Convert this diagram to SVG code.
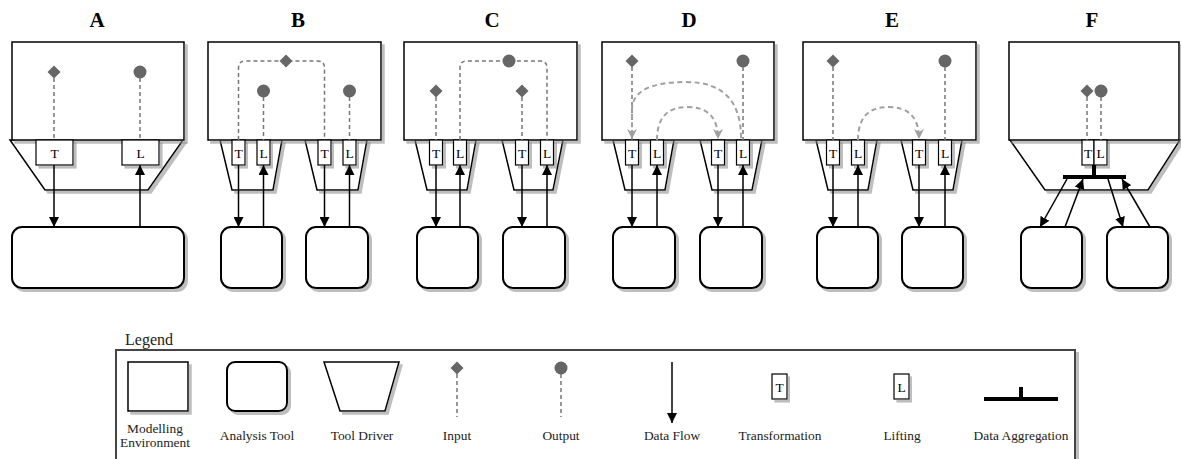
<svg xmlns="http://www.w3.org/2000/svg" width="1181" height="459" viewBox="0 0 1181 459">
<style>
.sh{filter:url(#shadow)}
.env{fill:#fff;stroke:#000;stroke-width:1.5}
.trap{fill:#fff;stroke:#000;stroke-width:1.5;stroke-linejoin:miter}
.tool{fill:#fff;stroke:#000;stroke-width:2}
.box{fill:#fff;stroke:#000;stroke-width:1.2}
.mk{fill:#666;stroke:none}
.dash{fill:none;stroke:#777;stroke-width:1.5;stroke-dasharray:4 3}
.ldash{fill:none;stroke:#a0a0a0;stroke-width:2;stroke-dasharray:5 3.5}
.flow{fill:none;stroke:#000;stroke-width:1.5}
.agg{fill:none;stroke:#000;stroke-width:4}
.title{font-family:"Liberation Serif",serif;font-weight:bold;font-size:21px;text-anchor:middle;fill:#000}
.bt{font-family:"Liberation Serif",serif;font-size:13.5px;text-anchor:middle;fill:#000}
.lbl{font-family:"Liberation Serif",serif;font-size:13.4px;text-anchor:middle;fill:#222}
</style>
<defs>
<filter id="shadow" x="-10%" y="-10%" width="130%" height="130%">
<feDropShadow dx="3" dy="3" stdDeviation="0.6" flood-color="#888" flood-opacity="0.55"/>
</filter>
<marker id="ah" viewBox="0 0 10 10" refX="10" refY="5" markerWidth="10" markerHeight="10" markerUnits="userSpaceOnUse" orient="auto">
<path d="M0,0 L10,5 L0,10 Z" fill="#000"/>
</marker>
<marker id="gh" viewBox="0 0 10 10" refX="10" refY="5" markerWidth="10" markerHeight="10" markerUnits="userSpaceOnUse" orient="auto">
<path d="M0,0 L10,5 L0,10 L3,5 Z" fill="#a0a0a0"/>
</marker>
</defs>
<rect width="1181" height="459" fill="#fff"/>

<!-- Titles -->
<g id="titles">
<text class="title" x="97" y="27">A</text>
<text class="title" x="298" y="27">B</text>
<text class="title" x="492" y="27">C</text>
<text class="title" x="689" y="27">D</text>
<text class="title" x="892" y="27">E</text>
<text class="title" x="1092" y="27">F</text>
</g>

<!-- Panel A -->
<g id="A-driver"><polygon class="trap sh" points="10,140 183,140 148,190 45,190"/></g>
<g id="A-env"><rect class="env sh" x="12" y="42" width="172" height="98"/></g>
<g id="A-T"><rect class="box sh" x="36" y="140" width="37" height="25"/><text class="bt" x="54.5" y="157.5">T</text></g>
<g id="A-L"><rect class="box sh" x="122" y="140" width="37" height="25"/><text class="bt" x="140.5" y="157.5">L</text></g>
<g id="A-tool"><rect class="tool sh" x="12" y="227" width="172" height="61" rx="10"/></g>
<g id="A-in"><polygon class="mk" points="54,65.5 60.5,72 54,78.5 47.5,72"/></g>
<g id="A-out"><circle class="mk" cx="140" cy="72" r="6.5"/></g>

<!-- Panel B -->
<g id="B-driver1"><polygon class="trap sh" points="220,140 282,140 273,190 232,190"/></g>
<g id="B-driver2"><polygon class="trap sh" points="305,140 367,140 358,190 317,190"/></g>
<g id="B-env"><rect class="env sh" x="208" y="42" width="173" height="98"/></g>
<g id="B-T1"><rect class="box sh" x="232" y="140" width="13" height="25"/><text class="bt" x="238.5" y="157.5">T</text></g>
<g id="B-L1"><rect class="box sh" x="257" y="140" width="13" height="25"/><text class="bt" x="263.5" y="157.5">L</text></g>
<g id="B-T2"><rect class="box sh" x="318" y="140" width="13" height="25"/><text class="bt" x="324.5" y="157.5">T</text></g>
<g id="B-L2"><rect class="box sh" x="343" y="140" width="13" height="25"/><text class="bt" x="349.5" y="157.5">L</text></g>
<g id="B-tool1"><rect class="tool sh" x="221" y="227" width="61" height="61" rx="10"/></g>
<g id="B-tool2"><rect class="tool sh" x="306" y="227" width="62" height="61" rx="10"/></g>

<!-- Panel C -->
<g id="C-driver1"><polygon class="trap sh" points="415,140 476,140 467,190 427,190"/></g>
<g id="C-driver2"><polygon class="trap sh" points="502,140 563,140 553,190 514,190"/></g>
<g id="C-env"><rect class="env sh" x="404" y="42" width="173" height="98"/></g>
<g id="C-T1"><rect class="box sh" x="429.5" y="140" width="13" height="25"/><text class="bt" x="436" y="157.5">T</text></g>
<g id="C-L1"><rect class="box sh" x="453.5" y="140" width="13" height="25"/><text class="bt" x="460" y="157.5">L</text></g>
<g id="C-T2"><rect class="box sh" x="515.5" y="140" width="13" height="25"/><text class="bt" x="522" y="157.5">T</text></g>
<g id="C-L2"><rect class="box sh" x="540.5" y="140" width="13" height="25"/><text class="bt" x="547" y="157.5">L</text></g>
<g id="C-tool1"><rect class="tool sh" x="417" y="227" width="61" height="61" rx="10"/></g>
<g id="C-tool2"><rect class="tool sh" x="503" y="227" width="62" height="61" rx="10"/></g>

<!-- Panel D -->
<g id="D-driver1"><polygon class="trap sh" points="613,140 674,140 665,190 625,190"/></g>
<g id="D-driver2"><polygon class="trap sh" points="700,140 762,140 752,190 712,190"/></g>
<g id="D-env"><rect class="env sh" x="602" y="42" width="172" height="98"/></g>
<g id="D-T1"><rect class="box sh" x="625.5" y="140" width="13" height="25"/><text class="bt" x="632" y="157.5">T</text></g>
<g id="D-L1"><rect class="box sh" x="650.5" y="140" width="13" height="25"/><text class="bt" x="657" y="157.5">L</text></g>
<g id="D-T2"><rect class="box sh" x="711.5" y="140" width="13" height="25"/><text class="bt" x="718" y="157.5">T</text></g>
<g id="D-L2"><rect class="box sh" x="736.5" y="140" width="13" height="25"/><text class="bt" x="743" y="157.5">L</text></g>
<g id="D-tool1"><rect class="tool sh" x="613" y="227" width="62" height="61" rx="10"/></g>
<g id="D-tool2"><rect class="tool sh" x="700" y="227" width="62" height="61" rx="10"/></g>

<!-- Panel E -->
<g id="E-driver1"><polygon class="trap sh" points="816,140 877,140 868,190 828,190"/></g>
<g id="E-driver2"><polygon class="trap sh" points="901,140 962,140 953,190 913,190"/></g>
<g id="E-env"><rect class="env sh" x="803" y="42" width="173" height="98"/></g>
<g id="E-T1"><rect class="box sh" x="826.5" y="140" width="13" height="25"/><text class="bt" x="833" y="157.5">T</text></g>
<g id="E-L1"><rect class="box sh" x="851.5" y="140" width="13" height="25"/><text class="bt" x="858" y="157.5">L</text></g>
<g id="E-T2"><rect class="box sh" x="912.5" y="140" width="13" height="25"/><text class="bt" x="919" y="157.5">T</text></g>
<g id="E-L2"><rect class="box sh" x="938.5" y="140" width="13" height="25"/><text class="bt" x="945" y="157.5">L</text></g>
<g id="E-tool1"><rect class="tool sh" x="817" y="227" width="61" height="61" rx="10"/></g>
<g id="E-tool2"><rect class="tool sh" x="902" y="227" width="61" height="61" rx="10"/></g>

<!-- Panel F -->
<g id="F-driver"><polygon class="trap sh" points="1010,140 1180,140 1148,190 1045,190"/></g>
<g id="F-env"><rect class="env sh" x="1009" y="42" width="170" height="98"/></g>
<g id="F-T"><rect class="box sh" x="1082" y="140" width="12" height="25"/><text class="bt" x="1088" y="157.5">T</text></g>
<g id="F-L"><rect class="box sh" x="1094" y="140" width="13" height="25"/><text class="bt" x="1100.5" y="157.5">L</text></g>
<g id="F-agg"><path class="agg" d="M1094,165 V177 M1063,177 H1126"/></g>
<g id="F-tool1"><rect class="tool sh" x="1021" y="227" width="61" height="61" rx="10"/></g>
<g id="F-tool2"><rect class="tool sh" x="1107" y="227" width="61" height="61" rx="10"/></g>

<!-- Connectors -->
<g id="connectors">
<!-- A -->
<path class="dash" d="M54,78 V140"/>
<path class="dash" d="M140,78 V140"/>
<path class="flow" d="M54,165 V227" marker-end="url(#ah)"/>
<path class="flow" d="M140,227 V165" marker-end="url(#ah)"/>
<!-- B -->
<path class="dash" d="M238.5,140 V68 Q238.5,61 245.5,61 L317.5,61 Q324.5,61 324.5,68 V140"/>
<path class="dash" d="M263.5,97 V140"/>
<path class="dash" d="M349.5,97 V140"/>
<path class="flow" d="M238.5,165 V227" marker-end="url(#ah)"/>
<path class="flow" d="M263.5,227 V165" marker-end="url(#ah)"/>
<path class="flow" d="M324.5,165 V227" marker-end="url(#ah)"/>
<path class="flow" d="M349.5,227 V165" marker-end="url(#ah)"/>
<!-- C -->
<path class="dash" d="M460,140 V68 Q460,61 467,61 L540,61 Q547,61 547,68 V140"/>
<path class="dash" d="M436,97 V140"/>
<path class="dash" d="M522,97 V140"/>
<path class="flow" d="M436,165 V227" marker-end="url(#ah)"/>
<path class="flow" d="M460,227 V165" marker-end="url(#ah)"/>
<path class="flow" d="M522,165 V227" marker-end="url(#ah)"/>
<path class="flow" d="M547,227 V165" marker-end="url(#ah)"/>
<!-- D -->
<path class="dash" d="M632,67 V140"/>
<path class="dash" d="M743,67 V140"/>
<path class="ldash" d="M741,138 Q741,82 686,82 Q632,82 632,110 L632,139" marker-end="url(#gh)"/>
<path class="ldash" d="M657,140 Q657,107 687.5,107 Q718,107 718,139" marker-end="url(#gh)"/>
<path class="flow" d="M632,165 V227" marker-end="url(#ah)"/>
<path class="flow" d="M657,227 V165" marker-end="url(#ah)"/>
<path class="flow" d="M718,165 V227" marker-end="url(#ah)"/>
<path class="flow" d="M743,227 V165" marker-end="url(#ah)"/>
<!-- E -->
<path class="dash" d="M833,67 V140"/>
<path class="dash" d="M945,67 V140"/>
<path class="ldash" d="M858,140 Q858,107 888.5,107 Q919,107 919,139" marker-end="url(#gh)"/>
<path class="flow" d="M833,165 V227" marker-end="url(#ah)"/>
<path class="flow" d="M858,227 V165" marker-end="url(#ah)"/>
<path class="flow" d="M919,165 V227" marker-end="url(#ah)"/>
<path class="flow" d="M945,227 V165" marker-end="url(#ah)"/>
<!-- F -->
<path class="dash" d="M1087,97 V140"/>
<path class="dash" d="M1101,97 V140"/>
<path class="flow" d="M1067,179 L1040,227" marker-end="url(#ah)"/>
<path class="flow" d="M1065,227 L1083,179" marker-end="url(#ah)"/>
<path class="flow" d="M1108,179 L1123,227" marker-end="url(#ah)"/>
<path class="flow" d="M1150,227 L1122,179" marker-end="url(#ah)"/>
</g>

<!-- Inputs / outputs -->
<g id="B-in"><polygon class="mk" points="286,54.5 292.5,61 286,67.5 279.5,61"/></g>
<g id="B-out1"><circle class="mk" cx="263.5" cy="91" r="6.5"/></g>
<g id="B-out2"><circle class="mk" cx="349.5" cy="91" r="6.5"/></g>
<g id="C-out"><circle class="mk" cx="509" cy="61" r="6.5"/></g>
<g id="C-in1"><polygon class="mk" points="436,84.5 442.5,91 436,97.5 429.5,91"/></g>
<g id="C-in2"><polygon class="mk" points="522,84.5 528.5,91 522,97.5 515.5,91"/></g>
<g id="D-in"><polygon class="mk" points="632,54.5 638.5,61 632,67.5 625.5,61"/></g>
<g id="D-out"><circle class="mk" cx="743" cy="61" r="6.5"/></g>
<g id="E-in"><polygon class="mk" points="833,54.5 839.5,61 833,67.5 826.5,61"/></g>
<g id="E-out"><circle class="mk" cx="945" cy="61" r="6.5"/></g>
<g id="F-in"><polygon class="mk" points="1087,84.5 1093.5,91 1087,97.5 1080.5,91"/></g>
<g id="F-out"><circle class="mk" cx="1101" cy="91" r="6.5"/></g>

<!-- Legend -->
<g id="legend">
<text x="125" y="345" style="font-family:'Liberation Serif',serif;font-size:16px;fill:#222">Legend</text>
<rect class="sh" x="116" y="350" width="959" height="130" fill="#fff" stroke="#444" stroke-width="2"/>
<g id="lg-env"><rect class="env sh" x="128" y="362" width="60" height="49"/>
<text class="lbl" x="155" y="433">Modelling</text><text class="lbl" x="155" y="447">Environment</text></g>
<g id="lg-tool"><rect class="tool sh" x="227" y="362" width="60" height="49" rx="8"/>
<text class="lbl" x="257" y="440">Analysis Tool</text></g>
<g id="lg-driver"><polygon class="trap sh" points="324,362 399,362 385,411 340,411"/>
<text class="lbl" x="362" y="440">Tool Driver</text></g>
<g id="lg-input"><path class="dash" d="M457,374 V417"/><polygon class="mk" points="457,361.5 463.5,368 457,374.5 450.5,368"/>
<text class="lbl" x="457" y="440">Input</text></g>
<g id="lg-output"><path class="dash" d="M561,374 V417"/><circle class="mk" cx="561" cy="368" r="6.5"/>
<text class="lbl" x="561" y="440">Output</text></g>
<g id="lg-flow"><path class="flow" d="M672,362 V423" marker-end="url(#ah)"/>
<text class="lbl" x="672" y="440">Data Flow</text></g>
<g id="lg-T"><rect class="box sh" x="772" y="374" width="15" height="25"/><text class="bt" x="779.5" y="391.5">T</text>
<text class="lbl" x="780" y="440">Transformation</text></g>
<g id="lg-L"><rect class="box sh" x="894" y="374" width="15" height="25"/><text class="bt" x="901.5" y="391.5">L</text>
<text class="lbl" x="902" y="440">Lifting</text></g>
<g id="lg-agg"><path class="agg" d="M1021,387 V399 M984,399 H1058"/>
<text class="lbl" x="1021" y="440">Data Aggregation</text></g>
</g>
</svg>
